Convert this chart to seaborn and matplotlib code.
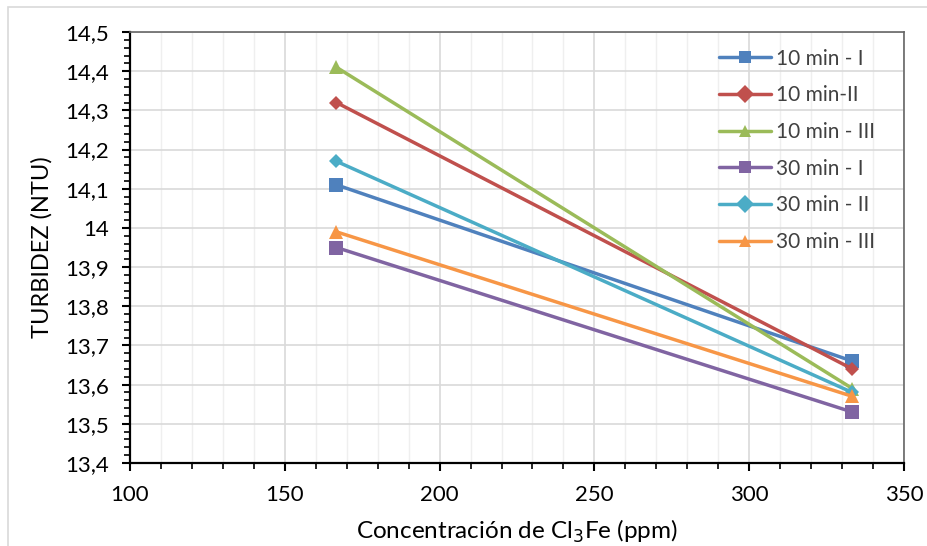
import matplotlib
matplotlib.use("Agg")
import matplotlib.pyplot as plt
from matplotlib.ticker import MultipleLocator, FuncFormatter
from matplotlib.patches import Rectangle
import seaborn as sns
import pandas as pd

# ---- data ----
concentrations = [166.67, 333.33]
series_names = ["10 min - I", "10 min-II", "10 min - III",
                "30 min - I", "30 min - II", "30 min - III"]
v10_I = [14.11, 13.66]
v10_II = [14.32, 13.64]
v10_III = [14.41, 13.59]
v30_I = [13.95, 13.53]
v30_II = [14.17, 13.58]
v30_III = [13.99, 13.57]
values = [v10_I, v10_II, v10_III, v30_I, v30_II, v30_III]
colors = ["#4F81BD", "#C0504D", "#9BBB59", "#8064A2", "#4BACC6", "#F79646"]
marker_list = ["s", "D", "^", "s", "D", "^"]
marker_sizes = [10, 7.5, 10, 10, 7.5, 10]

rows = []
for name, vals in zip(series_names, values):
    for x, y in zip(concentrations, vals):
        rows.append({"conc": x, "turb": y, "serie": name})
df = pd.DataFrame(rows)

sns.set_theme(style="white")
plt.rcParams["font.family"] = ["Lato", "DejaVu Sans"]

fig = plt.figure(figsize=(9.27, 5.46), dpi=100)
ax = fig.add_axes([130 / 927, 1 - 463 / 546, (904 - 130) / 927, (463 - 32) / 546])

# outer chart border
fig.patches.append(Rectangle((8 / 927, -0.1), 1.2, 1 - 7 / 546 + 0.1,
                             transform=fig.transFigure, fill=False,
                             edgecolor="#D9D9D9", linewidth=1.2, zorder=0))

sns.lineplot(data=df, x="conc", y="turb", hue="serie", style="serie",
             hue_order=series_names, style_order=series_names,
             palette=dict(zip(series_names, colors)),
             markers=dict(zip(series_names, marker_list)),
             dashes=False, linewidth=2.5, markersize=9,
             markeredgewidth=0, ax=ax, legend=True, sort=False)

for line, ms in zip(ax.get_lines(), marker_sizes):
    line.set_markersize(ms)

ax.set_xlim(100, 350)
ax.set_ylim(13.4, 14.5)
ax.xaxis.set_major_locator(MultipleLocator(50))
ax.xaxis.set_minor_locator(MultipleLocator(10))
ax.yaxis.set_major_locator(MultipleLocator(0.1))
ax.yaxis.set_minor_locator(MultipleLocator(0.02))
ax.yaxis.set_major_formatter(FuncFormatter(lambda v, p: f"{round(v, 1):g}".replace(".", ",")))

ax.grid(which="major", axis="both", color="#D9D9D9", linewidth=1.2)
ax.grid(which="minor", axis="x", color="#EFEFEF", linewidth=1.0)
ax.set_axisbelow(True)

for s in ["left", "bottom"]:
    ax.spines[s].set_color("black")
    ax.spines[s].set_linewidth(1.6)
for s in ["top", "right"]:
    ax.spines[s].set_color("#666666")
    ax.spines[s].set_linewidth(1.2)

ax.tick_params(axis="both", which="major", direction="out", length=6, width=1.5,
               color="black", labelsize=16, labelcolor="black",
               left=True, bottom=True)
ax.tick_params(axis="both", which="minor", direction="out", length=4, width=1.2,
               color="black", left=True, bottom=True)
ax.tick_params(axis="x", which="major", pad=10)
ax.tick_params(axis="y", which="major", pad=9)

ax.set_xlabel("Concentración de Cl$_3$Fe (ppm)", fontsize=17.5, color="black", labelpad=9)
ax.set_ylabel("TURBIDEZ (NTU)", fontsize=17, color="black", labelpad=9)

handles, labels = ax.get_legend_handles_labels()
leg = ax.legend(handles, labels, loc="upper right", bbox_to_anchor=(0.987, 1.005),
                frameon=False, fontsize=15, numpoints=1, handlelength=2.5,
                handletextpad=0.25, labelspacing=0.8, borderaxespad=0.5)
for t in leg.get_texts():
    t.set_color("#404040")

fig.savefig("out.png", dpi=100)
